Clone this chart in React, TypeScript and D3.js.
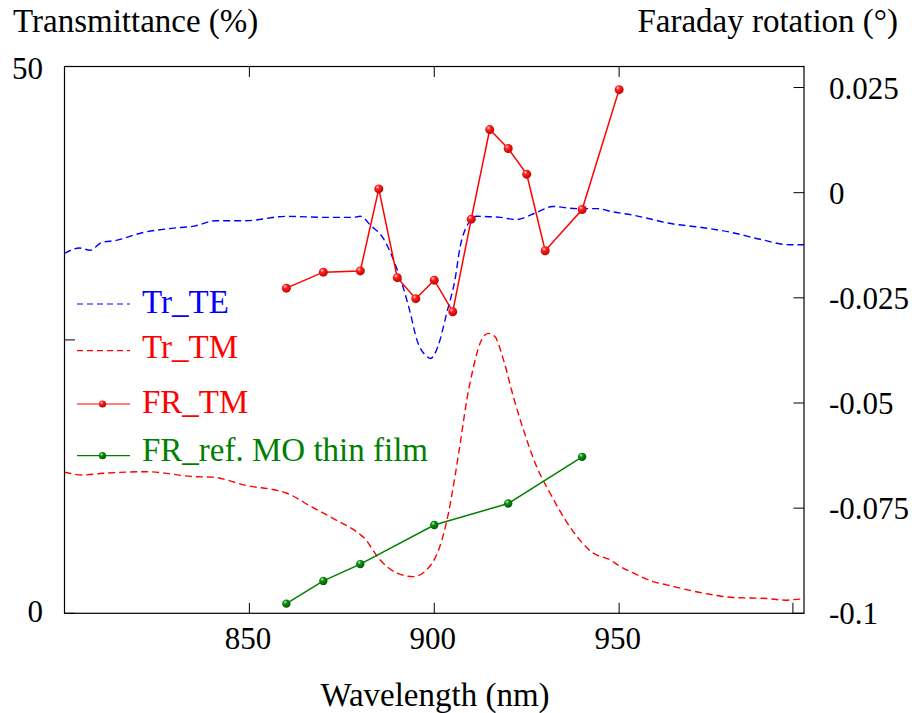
import React from "react";
import * as d3 from "d3";

// ---- data ----
const teWavelength = [800, 804, 807, 810, 814, 821, 829, 835, 841, 849, 860, 871, 878, 880, 883, 886, 889, 891.5, 893.5, 895.3, 898, 899, 901, 903.4, 905.6, 907, 908.8, 911.5, 918, 922, 928, 932, 938.5, 944, 948.4, 953.8, 959.2, 962.9, 971.9, 980.8, 988.1, 996.2, 1000];
const teTransmittance = [32.9, 33.4, 33.2, 33.9, 34.1, 34.8, 35.2, 35.4, 35.9, 35.9, 36.3, 36.2, 36.2, 36.3, 35.4, 34.4, 32.3, 29.9, 27.5, 25.0, 23.5, 23.3, 24.4, 27.5, 30.5, 33.5, 35.4, 36.3, 36.2, 36.0, 36.7, 37.2, 37.0, 37.0, 36.7, 36.4, 36.0, 35.7, 35.3, 34.8, 34.2, 33.7, 33.7];

const tmWavelength = [800, 805, 810.5, 822, 835, 840, 849, 860, 867, 873.6, 880, 881, 885.3, 889.8, 894.3, 898.8, 901.5, 903.8, 905.6, 907, 908.8, 910.6, 912.4, 914.6, 916.4, 918.7, 921.4, 924.1, 927.7, 931.3, 936.7, 943, 947.5, 950.2, 953.8, 959.2, 962.9, 971.9, 980.9, 989.9, 995.3, 998.9, 1000];
const tmTransmittance = [12.9, 12.65, 12.8, 12.95, 12.5, 12.45, 11.7, 11.0, 9.7, 8.5, 7.2, 6.9, 4.9, 3.7, 3.35, 4.3, 6.1, 9.1, 12.5, 15.5, 19.5, 22.5, 24.7, 25.6, 25.3, 23.2, 19.8, 16.8, 13.4, 11.0, 7.9, 5.5, 4.9, 4.3, 3.7, 2.9, 2.6, 1.9, 1.45, 1.35, 1.2, 1.3, 1.2];

const frTmWavelength = [860, 870, 880, 885, 890, 895, 900, 905, 910, 915, 920, 925, 930, 940, 950];
const frTmRotation = [-0.0227, -0.0189, -0.0186, 0.0009, -0.0202, -0.0252, -0.0208, -0.0283, -0.0063, 0.015, 0.0105, 0.0044, -0.0138, -0.004, 0.0245];

const frRefWavelength = [860, 870, 880, 900, 920, 940];
const frRefRotation = [-0.0977, -0.0923, -0.0883, -0.079, -0.0739, -0.0628];

const xTicks = [850, 900, 950];
const xMinorTicks = [997];
const leftTicks = [0, 25, 50];
const leftTickLabels = ["0", "", "50"];
const rightTicks = [-0.1, -0.075, -0.05, -0.025, 0, 0.025];
const rightTickLabels = ["-0.1", "-0.075", "-0.05", "-0.025", "0", "0.025"];

const legendLabels = ["Tr_TE", "Tr_TM", "FR_TM", "FR_ref. MO thin film"];
const legendColors = ["#0000ff", "#ff0000", "#ff0000", "#008000"];
const legendKinds = ["dash", "dash", "marker", "marker"];

const FONT = "'Liberation Serif'";

export default function App() {
  const W = 916, H = 713;
  const left = 64.5, right = 804, top = 66.5, bottom = 613.3;
  const fs = 31;
  const ts = { fontFamily: FONT };
  const legendLineY = [304, 350.7, 404, 455.7];
  const legendTextY = [313.3, 358, 413.3, 460.7];

  const x = d3.scaleLinear().domain([800, 1000]).range([left, right]);
  const yL = d3.scaleLinear().domain([0, 50]).range([bottom, top]);
  const yR = d3.scaleLinear().domain([-0.1, 0.03]).range([bottom, top]);

  const lineL = d3.line<[number, number]>().x(d => x(d[0])).y(d => yL(d[1])).curve(d3.curveMonotoneX);
  const lineR = d3.line<[number, number]>().x(d => x(d[0])).y(d => yR(d[1]));

  const te = teWavelength.map((w, i) => [w, teTransmittance[i]] as [number, number]);
  const tm = tmWavelength.map((w, i) => [w, tmTransmittance[i]] as [number, number]);
  const frTm = frTmWavelength.map((w, i) => [w, frTmRotation[i]] as [number, number]);
  const frRef = frRefWavelength.map((w, i) => [w, frRefRotation[i]] as [number, number]);

  const tl = 10.5;

  return (
    <svg width={W} height={H} style={{ position: "absolute", left: 0, top: 0 }}>
      <defs>
        <radialGradient id="gRed" cx="0.4" cy="0.35" r="0.65" fx="0.35" fy="0.3">
          <stop offset="0" stopColor="#ffd0d0" />
          <stop offset="0.35" stopColor="#ff2020" />
          <stop offset="1" stopColor="#c00000" />
        </radialGradient>
        <radialGradient id="gGreen" cx="0.4" cy="0.35" r="0.65" fx="0.35" fy="0.3">
          <stop offset="0" stopColor="#c8f0c8" />
          <stop offset="0.35" stopColor="#109010" />
          <stop offset="1" stopColor="#005a00" />
        </radialGradient>
        <clipPath id="plotClip">
          <rect x={left} y={top} width={right - left} height={bottom - top} />
        </clipPath>
      </defs>

      {/* curves */}
      <g clipPath="url(#plotClip)">
        <path d={lineL(te) || ""} fill="none" stroke="#0000ff" strokeWidth={1.4} strokeDasharray="7,4" />
        <path d={lineL(tm) || ""} fill="none" stroke="#ff0000" strokeWidth={1.4} strokeDasharray="7,4" />
      </g>
      <path d={lineR(frRef) || ""} fill="none" stroke="#008000" strokeWidth={1.5} />
      {frRef.map((d, i) => (
        <circle key={"g" + i} cx={x(d[0])} cy={yR(d[1])} r={4.2} fill="url(#gGreen)" />
      ))}
      <path d={lineR(frTm) || ""} fill="none" stroke="#ff0000" strokeWidth={1.5} />
      {frTm.map((d, i) => (
        <circle key={"r" + i} cx={x(d[0])} cy={yR(d[1])} r={4.5} fill="url(#gRed)" />
      ))}

      {/* frame */}
      <rect x={left} y={top} width={right - left} height={bottom - top} fill="none" stroke="#000" strokeWidth={1.2} />

      {/* x ticks */}
      {xTicks.map(t => (
        <g key={"xt" + t}>
          <line x1={x(t)} x2={x(t)} y1={bottom} y2={bottom - tl} stroke="#000" strokeWidth={1} />
          <line x1={x(t)} x2={x(t)} y1={top} y2={top + tl} stroke="#000" strokeWidth={1} />
          <text x={x(t) - 1.5} y={649} textAnchor="middle" fontSize={fs} style={ts}>{t}</text>
        </g>
      ))}
      {xMinorTicks.map(t => (
        <line key={"xm" + t} x1={x(t)} x2={x(t)} y1={bottom} y2={bottom - tl} stroke="#000" strokeWidth={1} />
      ))}

      {/* left ticks */}
      {leftTicks.map((t, i) => (
        <g key={"lt" + t}>
          <line x1={left} x2={left + tl} y1={yL(t)} y2={yL(t)} stroke="#000" strokeWidth={1} />
          {leftTickLabels[i] && (
            <text x={43} y={i === leftTicks.length - 1 ? 79 : 622} textAnchor="end" fontSize={fs} style={ts}>{leftTickLabels[i]}</text>
          )}
        </g>
      ))}

      {/* right ticks */}
      {rightTicks.map((t, i) => (
        <g key={"rt" + i}>
          <line x1={right} x2={right - tl} y1={yR(t)} y2={yR(t)} stroke="#000" strokeWidth={1} />
          <text x={829} y={yR(t) + 11} textAnchor="start" fontSize={fs} style={ts}>{rightTickLabels[i]}</text>
        </g>
      ))}

      {/* axis titles */}
      <text x={13} y={32} fontSize={33} style={ts}>Transmittance (%)</text>
      <text x={898} y={32} textAnchor="end" fontSize={33} style={ts}>Faraday rotation (°)</text>
      <text x={435} y={706} textAnchor="middle" fontSize={33} style={ts}>Wavelength (nm)</text>

      {/* legend */}
      {legendLabels.map((lab, i) => {
        const ly = legendLineY[i];
        const c = legendColors[i];
        return (
          <g key={"lg" + i}>
            {legendKinds[i] === "dash" ? (
              <line x1={77} x2={130} y1={ly} y2={ly} stroke={c} strokeWidth={1.2} strokeDasharray="6,4" />
            ) : (
              <>
                <line x1={77} x2={130} y1={ly} y2={ly} stroke={c} strokeWidth={1.2} />
                <circle cx={102.5} cy={ly} r={3.6} fill={i === 2 ? "url(#gRed)" : "url(#gGreen)"} />
              </>
            )}
            <text x={142} y={legendTextY[i]} fontSize={33} fill={c} style={ts}>{lab}</text>
          </g>
        );
      })}
    </svg>
  );
}
